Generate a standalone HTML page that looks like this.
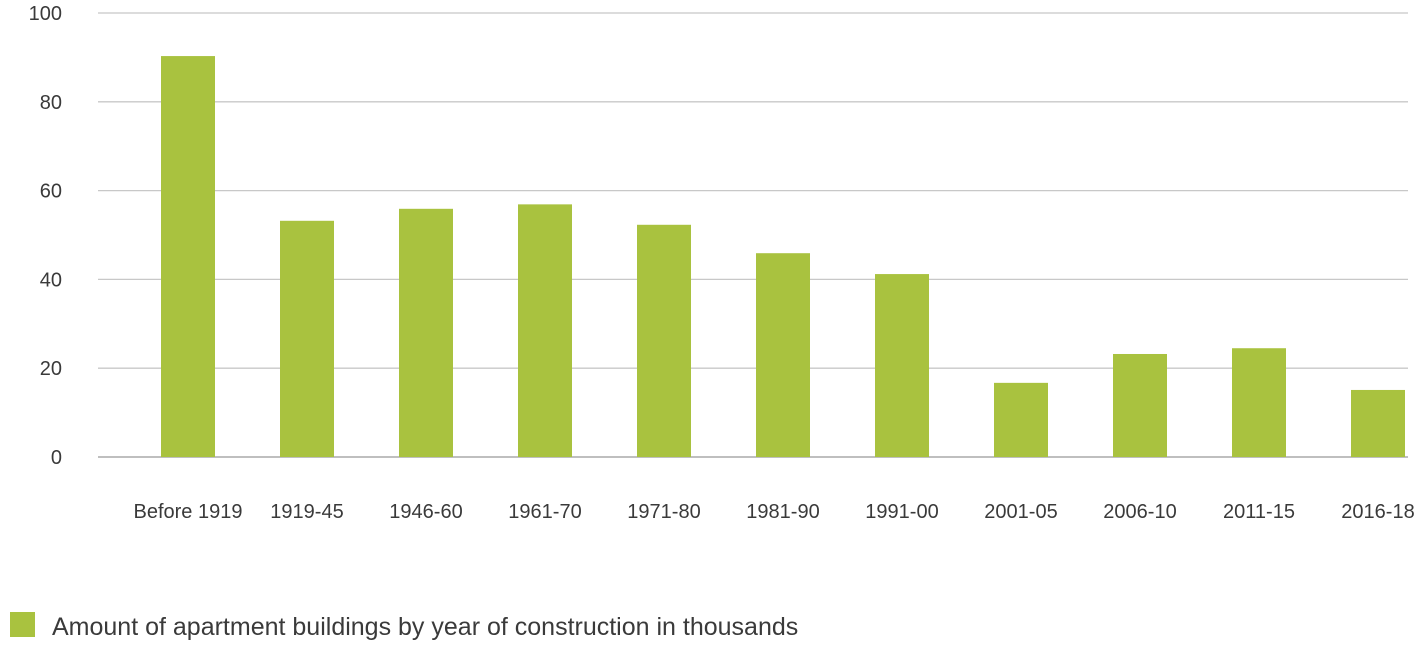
<!DOCTYPE html>
<html><head><meta charset="utf-8"><style>
body{margin:0;background:#fff;width:1424px;height:648px;overflow:hidden;font-family:"Liberation Sans",sans-serif}
</style></head><body>
<svg width="1424" height="648" xmlns="http://www.w3.org/2000/svg">
<g id="grid"></g><g id="bars"></g><g id="xlabels"></g>
<rect x="10" y="612" width="25" height="25" fill="#a9c23f"/>
<text x="52" y="635" font-size="25" fill="#3a3a3a">Amount of apartment buildings by year of construction in thousands</text>
</svg>
<script>
const categories=["Before 1919","1919-45","1946-60","1961-70","1971-80","1981-90","1991-00","2001-05","2006-10","2011-15","2016-18"];
const values=[90.3,53.2,55.9,56.9,52.3,45.9,41.2,16.7,23.2,24.5,15.1];
const yTicks=[0,20,40,60,80,100];
const NS="http://www.w3.org/2000/svg";
const y0=457,yTop=13,yMax=100;
function yScale(v){return y0-(y0-yTop)*v/yMax;}
function xCenter(i){return 188+i*119;}
const grid=document.getElementById('grid'),bars=document.getElementById('bars'),xl=document.getElementById('xlabels');
yTicks.forEach(t=>{
 const l=document.createElementNS(NS,'line');
 l.setAttribute('x1',98);l.setAttribute('x2',1408);l.setAttribute('y1',yScale(t));l.setAttribute('y2',yScale(t));
 l.setAttribute('stroke',t===0?'#999':'#c8c8c8');l.setAttribute('stroke-width',1.3);
 
 
 grid.appendChild(l);
 const tx=document.createElementNS(NS,'text');
 tx.setAttribute('x',62);tx.setAttribute('y',yScale(t)+7);tx.setAttribute('text-anchor','end');
 tx.setAttribute('font-size',20);tx.setAttribute('fill','#3a3a3a');tx.textContent=t;
 
 
 grid.appendChild(tx);
});
categories.forEach((c,i)=>{
 const r=document.createElementNS(NS,'rect');
 const top=yScale(values[i]);
 r.setAttribute('x',xCenter(i)-27);r.setAttribute('width',54);r.setAttribute('y',top);r.setAttribute('height',y0-top);
 r.setAttribute('fill','#a9c23f');
 
 
 bars.appendChild(r);
 const tx=document.createElementNS(NS,'text');
 tx.setAttribute('x',xCenter(i));tx.setAttribute('y',518);tx.setAttribute('text-anchor','middle');
 tx.setAttribute('font-size',20);tx.setAttribute('fill','#3a3a3a');tx.textContent=c;
 
 
 xl.appendChild(tx);
});
</script>
</body></html>
